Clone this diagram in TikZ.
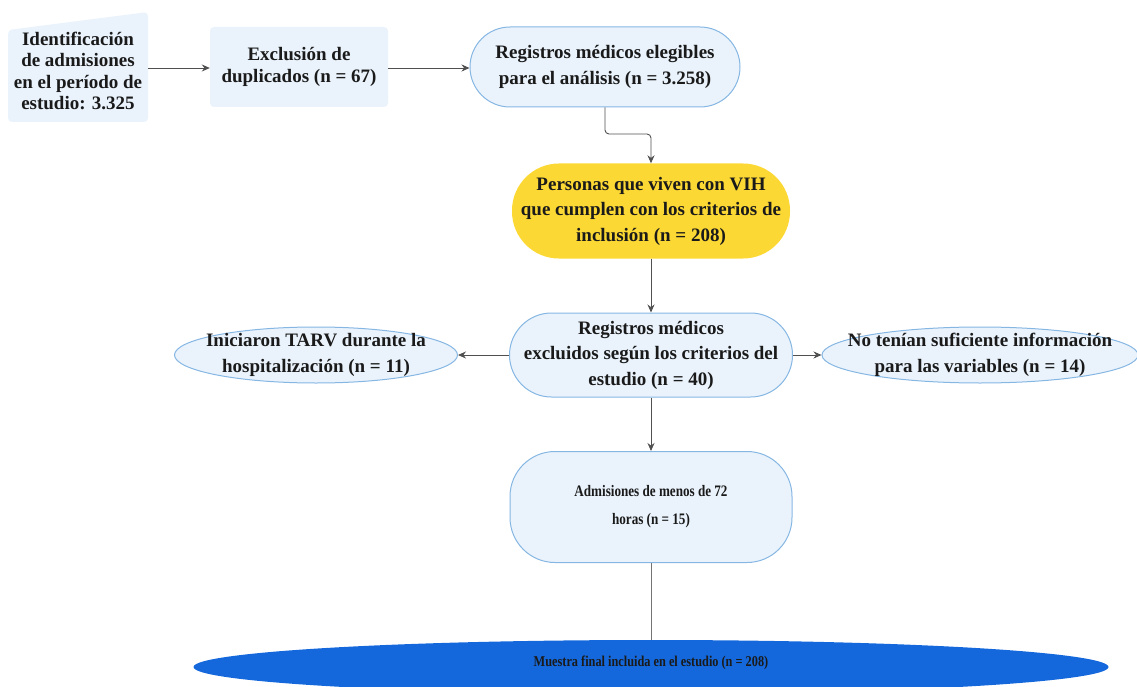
\documentclass[tikz,border=0pt]{standalone}
\usepackage{fontspec}
\setmainfont{Liberation Serif}
\newfontfamily\condfont[FakeStretch=0.82]{Liberation Serif}
\usetikzlibrary{shapes.geometric,arrows.meta}
\definecolor{lb}{HTML}{EAF3FC}
\definecolor{bd}{HTML}{86B7E3}
\definecolor{yl}{HTML}{FCD834}
\definecolor{bl}{HTML}{1468DC}
\definecolor{ln}{HTML}{505050}
\definecolor{tx}{HTML}{1A1A1A}
\begin{document}
\begin{tikzpicture}[x=1pt,y=-1pt,
 every node/.style={font=\bfseries\fontsize{19}{25.5}\selectfont, align=center, inner sep=0pt, text=tx},
 tight/.style={font=\bfseries\fontsize{19}{21.5}\selectfont},
 cond/.style={font=\condfont\bfseries\fontsize{16}{28}\selectfont},
 boxn/.style={fill=lb, rounded corners=4pt, minimum width=178pt, minimum height=80pt},
 pill/.style={fill=lb, draw=bd, line width=1pt},
 ell/.style={ellipse, fill=lb, draw=bd, line width=1pt, minimum width=283pt, minimum height=56pt},
 arr/.style={draw=ln, line width=0.9pt, -{Stealth[length=8pt,width=7pt]}},
]
\useasboundingbox (0,0) rectangle (1137,687);
% node 1 shape
\fill[lb, rounded corners=4pt] (8,30) -- (148,12) -- (148,122) -- (8,122) -- cycle;
\node[tight, minimum width=140pt, minimum height=110pt] (id) at (78,71)
  {Identificación\\de admisiones\\en el período de\\estudio: 3.325};
\node[boxn, tight] (dup) at (299,67) {Exclusión de\\duplicados (n = 67)};
\node[pill, rounded corners=40pt, minimum width=270pt, minimum height=80pt] (eleg) at (605,67)
  {Registros médicos elegibles\\para el análisis (n = 3.258)};
\node[fill=yl, rounded corners=47pt, minimum width=278pt, minimum height=95pt] (vih) at (651,211)
  {Personas que viven con VIH\\que cumplen con los criterios de\\inclusión (n = 208)};
\node[pill, rounded corners=42pt, minimum width=283pt, minimum height=84pt] (exc) at (651,355)
  {Registros médicos\\excluidos según los criterios del\\estudio (n = 40)};
\node[ell] (tarv) at (316,355) {};
\node (tarvt) at (tarv.center) {Iniciaron TARV durante la\\hospitalización (n = 11)};
\node[ell, minimum width=316pt] (info) at (980,355) {};
\node (infot) at (info.center) {No tenían suficiente información\\para las variables (n = 14)};
\node[pill, rounded corners=45pt, minimum width=282pt, minimum height=111pt, cond] (adm) at (651,507)
  {Admisiones de menos de 72\\horas (n = 15)};
\node[ellipse, fill=bl, minimum width=915pt, minimum height=54pt] (fin) at (651,667) {};
\node[cond, font=\condfont\bfseries\fontsize{15}{17}\selectfont] (fint) at (651,663) {Muestra final incluida en el estudio (n = 208)};
% connectors
\draw[arr] (id.east |- 0,68) -- (dup.west |- 0,68);
\draw[arr] (dup.east |- 0,68) -- (eleg.west |- 0,68);
\draw[arr, rounded corners=4pt] (eleg.south) -- (605,134) -- (651,134) -- (vih.north);
\draw[arr] (vih.south) -- (exc.north);
\draw[arr] (exc.west) -- (tarv.east);
\draw[arr] (exc.east) -- (info.west);
\draw[arr] (exc.south) -- (adm.north);
\draw[draw=ln!80, line width=0.9pt] (adm.south) -- (fin.north);
\end{tikzpicture}
\end{document}
